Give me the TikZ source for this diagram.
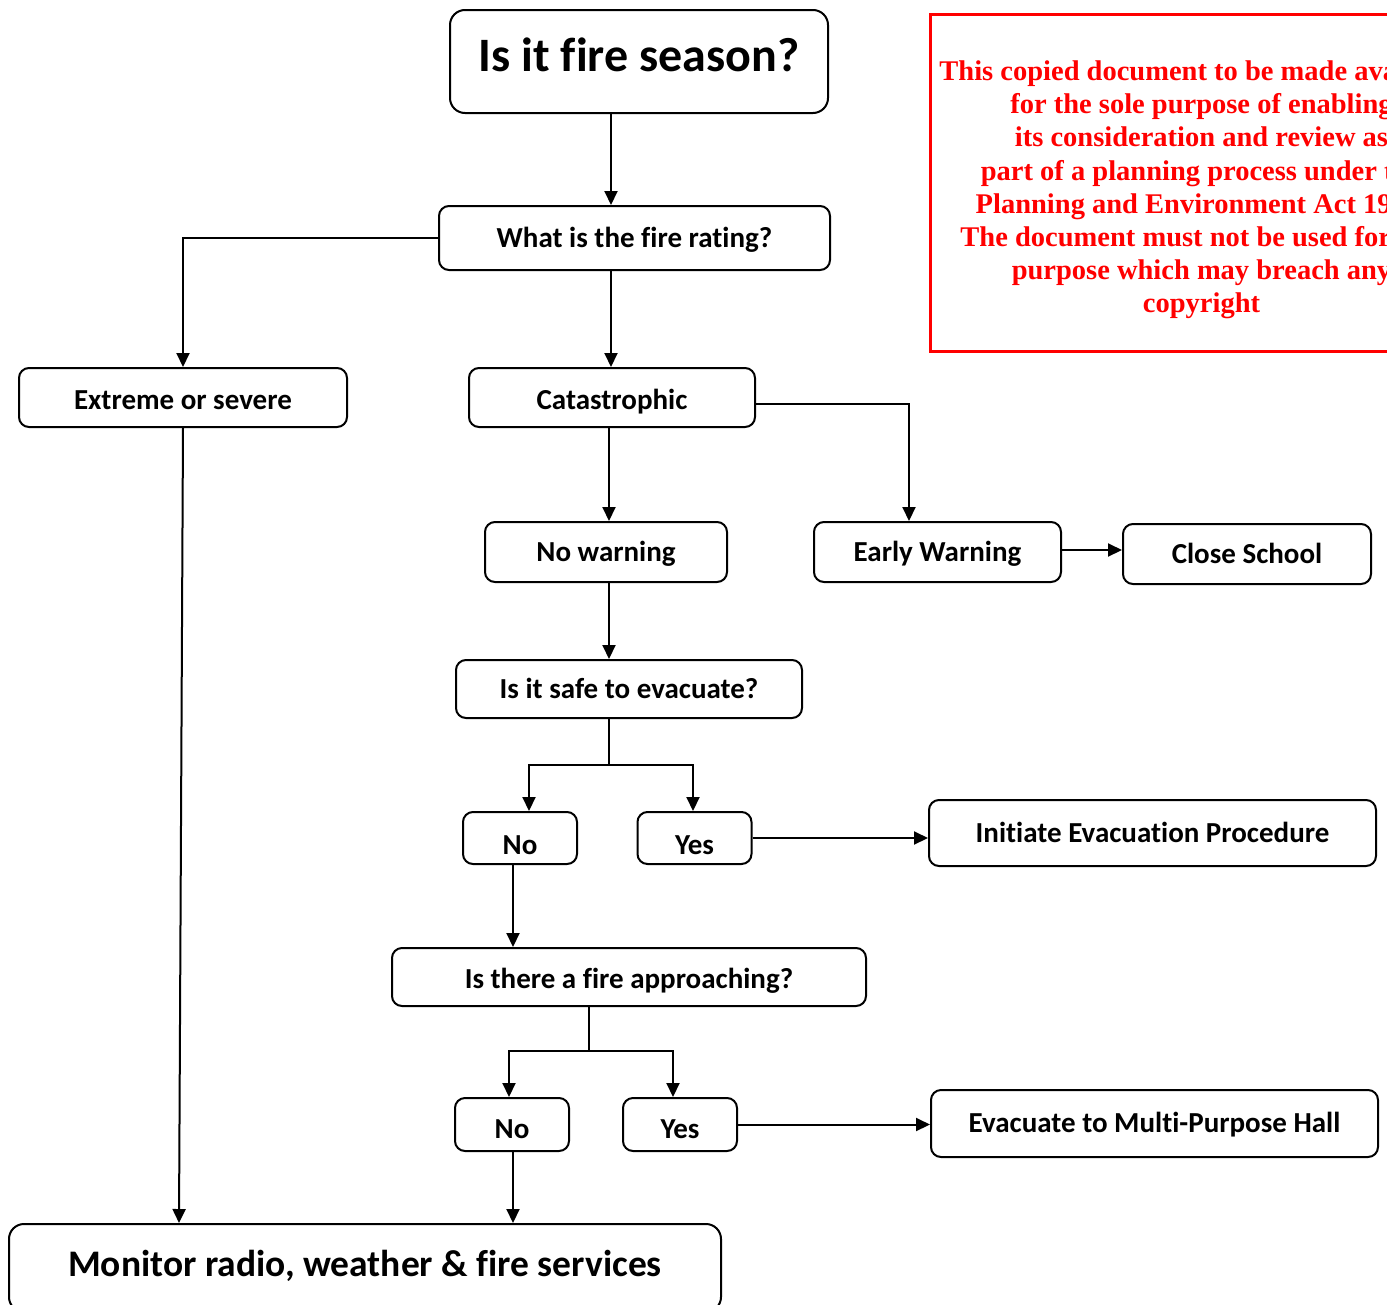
\documentclass[tikz,border=0pt]{standalone}
\usepackage{fontspec}
\setmainfont{Carlito}[Ligatures=NoCommon]
\newfontfamily\redfont{Liberation Serif}
\usetikzlibrary{arrows.meta}
\newcommand\fsz[1]{\fontsize{#1}{#1}\selectfont\bfseries}
\tikzset{
  box/.style={draw, line width=2pt, rounded corners=10pt, inner sep=0pt,
    font=\fsz{#1}, text height={0.70*#1pt}, text depth={0.06*#1pt}},
  conn/.style={line width=2pt},
  arr/.style={line width=2pt, -{Triangle[length=14pt,width=13pt]}},
}
\begin{document}
\begin{tikzpicture}[x=1pt,y=-1pt]
\useasboundingbox (0,0) rectangle (1387,1304);
\clip (0,0) rectangle (1387,1304);
% nodes
\node[box=48, rounded corners=15pt, minimum width=378pt, minimum height=103pt] (title) at (639,61.5) {\raisebox{5pt}{Is it fire season?}};
\node[box=29, minimum width=391pt, minimum height=64pt] (what) at (634.5,238) {What is the fire rating?};
\node[box=29, minimum width=328pt, minimum height=59pt] (extreme) at (183,397.5) {\raisebox{-3pt}{Extreme or severe}};
\node[box=29, minimum width=286pt, minimum height=59pt] (cat) at (612,397.5) {\raisebox{-3pt}{Catastrophic}};
\node[box=29, minimum width=242pt, minimum height=60pt] (nowarn) at (606,552) {No warning};
\node[box=29, minimum width=247pt, minimum height=60pt] (early) at (937.5,552) {Early Warning};
\node[box=29, minimum width=248pt, minimum height=60pt] (close) at (1247,554) {Close School};
\node[box=29, minimum width=346pt, minimum height=58pt] (safe) at (629,689) {Is it safe to evacuate?};
\node[box=29, minimum width=114pt, minimum height=52pt] (no1) at (520,838) {\raisebox{-7pt}{No}};
\node[box=29, minimum width=114pt, minimum height=52pt] (yes1) at (694.5,838) {\raisebox{-7pt}{Yes}};
\node[box=29, minimum width=447pt, minimum height=66pt] (init) at (1152.5,833) {Initiate Evacuation Procedure};
\node[box=29, minimum width=474pt, minimum height=58pt] (fireq) at (629,977) {\raisebox{-2pt}{Is there a fire approaching?}};
\node[box=29, minimum width=114pt, minimum height=53pt] (no2) at (512,1124.5) {\raisebox{-5pt}{No}};
\node[box=29, minimum width=114pt, minimum height=53pt] (yes2) at (680,1124.5) {\raisebox{-5pt}{Yes}};
\node[box=29, minimum width=447pt, minimum height=67pt] (evac) at (1154.5,1123.5) {Evacuate to Multi-Purpose Hall};
\node[box=37.5, rounded corners=15pt, minimum width=712pt, minimum height=88pt] (monitor) at (365,1268) {\raisebox{4pt}{Monitor radio, weather \& fire services}};
% red notice
\draw[red, line width=3pt] (930,14) rectangle (1473,351);
\node[red, inner sep=0pt, anchor=north, align=center, font=\redfont\bfseries\fontsize{28.5}{33.2}\selectfont] (notice) at (1201.5,60.5)
 {This copied document to be made available\\for the sole purpose of enabling\\its consideration and review as\\part of a planning process under the\\Planning and Environment Act 1987.\\The document must not be used for any\\purpose which may breach any\\copyright};
% helper coordinates
\coordinate (x611) at (611,0);
\coordinate (x609) at (609,0);
\coordinate (x513) at (513,0);
\coordinate (k1) at (909,404);
\coordinate (k2) at (0,550);
\coordinate (s1) at (609,765);
\coordinate (s1l) at (529,765);
\coordinate (s1r) at (693,765);
\coordinate (s2) at (589,1051);
\coordinate (s2l) at (509,1051);
\coordinate (s2r) at (673,1051);
\coordinate (x179) at (179,0);
% connectors
\draw[arr] (title.south -| x611) -- (what.north -| x611);
\draw[arr] (what.west) -| (extreme.north);
\draw[arr] (what.south -| x611) -- (cat.north -| x611);
\draw[arr] (cat.east |- k1) -- (k1) -- (early.north -| k1);
\draw[arr] (cat.south -| x609) -- (nowarn.north -| x609);
\draw[arr] (early.east |- k2) -- (close.west |- k2);
\draw[arr] (nowarn.south -| x609) -- (safe.north -| x609);
\draw[arr] (safe.south -| s1) -- (s1) -| (no1.north -| s1l);
\draw[arr] (s1) -| (yes1.north -| s1r);
\draw[arr] (yes1.east) -- (init.west |- yes1.east);
\draw[arr] (no1.south -| x513) -- (fireq.north -| x513);
\draw[arr] (fireq.south -| s2) -- (s2) -| (no2.north -| s2l);
\draw[arr] (s2) -| (yes2.north -| s2r);
\draw[arr] (yes2.east) -- (evac.west |- yes2.east);
\draw[arr] (no2.south -| x513) -- (monitor.north -| x513);
\draw[arr] (extreme.south) -- (monitor.north -| x179);
\end{tikzpicture}
\end{document}
